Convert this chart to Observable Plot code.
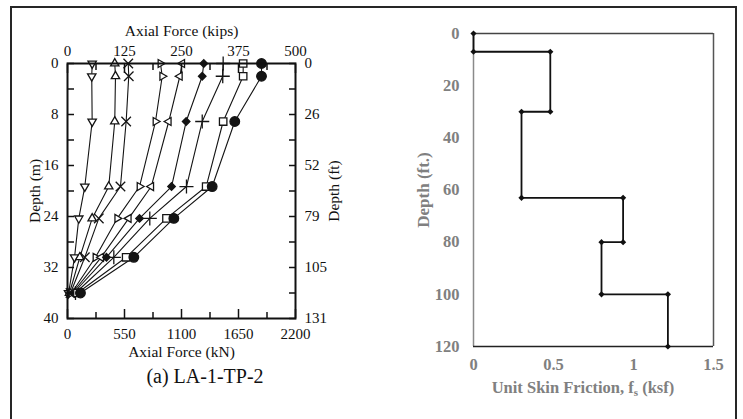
<!DOCTYPE html>
<html>
<head>
<meta charset="utf-8">
<script src="https://cdn.jsdelivr.net/npm/d3@7"></script>
<script src="https://cdn.jsdelivr.net/npm/@observablehq/plot@0.6"></script>
<style>
  body { margin: 0; background: #fff; }
  #wrap { position: relative; width: 743px; height: 419px; overflow: hidden; background: #fff;
          font-family: "Liberation Serif", "Times New Roman", serif; }
  #border { position: absolute; left: 10px; top: 6px; width: 727px; height: 460px;
            box-sizing: border-box; border: 2.5px solid #262626; }
  #left { position: absolute; left: 0; top: 0; }
  #right { position: absolute; left: 390px; top: 0; }
  #capA { position: absolute; left: 105px; width: 200px; top: 365px; text-align: center;
          font-size: 20px; line-height: 22px; color: #111; }
  #xlabR { position: absolute; left: 463px; width: 240px; top: 379px; text-align: center;
           font-size: 16.5px; line-height: 18px; font-weight: bold; color: #808080; }
  #xlabR sub { font-size: 11px; vertical-align: -3px; line-height: 0; }
</style>
</head>
<body>
<div id="wrap">
  <div id="border"></div>
  <div id="left"></div>
  <div id="right"></div>
  <div id="capA">(a) LA-1-TP-2</div>
  <div id="xlabR">Unit Skin Friction, f<sub>s</sub> (ksf)</div>
</div>
<script>
// ---------- Left panel data (axial force in kN vs depth in m) ----------
const depthM = [0, 2.0, 9.1, 19.3, 24.3, 30.4, 36.0];
const seriesNames = ["S1", "S2", "S3", "S4", "S5", "S6", "S7", "S8", "S9"];
const forceS1 = [238, 234, 238, 167, 109, 68, 10];
const forceS2 = [456, 463, 456, 398, 238, 119, 19];
const forceS3 = [586, 591, 566, 511, 302, 167, 29];
const forceS4 = [897, 914, 849, 695, 480, 270, 39];
const forceS5 = [1107, 1084, 977, 808, 591, 325, 48];
const forceS6 = [1315, 1300, 1145, 1004, 695, 376, 58];
const forceS7 = [1502, 1498, 1300, 1148, 794, 447, 77];
const forceS8 = [1695, 1695, 1502, 1338, 955, 566, 96];
const forceS9 = [1872, 1872, 1614, 1396, 1026, 640, 125];

const kNTicks = [0, 550, 1100, 1650, 2200];
const kNTickLabels = ["0", "550", "1100", "1650", "2200"];
const kNMinorTicks = [275, 825, 1375, 1925];
const kipsLabels = ["0", "125", "250", "375", "500"];
const depthMTicks = [0, 8, 16, 24, 32, 40];
const depthMMinorTicks = [4, 12, 20, 28, 36];
const depthFtLabels = ["0", "26", "52", "79", "105", "131"];

// ---------- Right panel data (unit skin friction vs depth in ft) ----------
const stepFs = [0, 0, 0.48, 0.48, 0.30, 0.30, 0.935, 0.935, 0.80, 0.80, 1.215, 1.215];
const stepDepthFt = [0, 7, 7, 30, 30, 63, 63, 80, 80, 100, 100, 120];
const fsTicks = [0, 0.5, 1, 1.5];
const fsTickLabels = ["0", "0.5", "1", "1.5"];
const depthFtTicks = [0, 20, 40, 60, 80, 100, 120];

// ---------- build left panel ----------
const allForces = [forceS1, forceS2, forceS3, forceS4, forceS5, forceS6, forceS7, forceS8, forceS9];
const rows = [];
allForces.forEach((arr, i) => arr.forEach((f, j) => rows.push({series: seriesNames[i], depth: depthM[j], force: f})));

function triSymbol(angleDeg) {
  const a0 = angleDeg * Math.PI / 180;
  return {
    draw(ctx, size) {
      const R = Math.sqrt(size / Math.PI) * 1.15;
      for (let k = 0; k < 3; k++) {
        const a = a0 + k * 2 * Math.PI / 3;
        const px = R * Math.cos(a), py = R * Math.sin(a);
        if (k === 0) ctx.moveTo(px, py); else ctx.lineTo(px, py);
      }
      ctx.closePath();
    }
  };
}
const triDown = triSymbol(90), triUp = triSymbol(-90), triRight = triSymbol(0), triLeft = triSymbol(180);

const ink = "#141414";
const styleFor = [
  {symbol: triDown, r: 4.2, fill: "white", stroke: ink},
  {symbol: triUp, r: 4.2, fill: "white", stroke: ink},
  {symbol: "times", r: 4.4, fill: "none", stroke: ink},
  {symbol: triRight, r: 4.0, fill: "white", stroke: ink},
  {symbol: triLeft, r: 4.0, fill: "white", stroke: ink},
  {symbol: "diamond2", r: 3.4, fill: ink, stroke: ink},
  {symbol: "plus", r: 4.6, fill: "none", stroke: ink},
  {symbol: "square", r: 4.2, fill: "white", stroke: ink},
  {symbol: "circle", r: 4.8, fill: ink, stroke: ink}
];

const dotMarks = seriesNames.map((name, i) =>
  Plot.dot(rows.filter(d => d.series === name), {
    x: "force", y: "depth", symbol: styleFor[i].symbol, r: styleFor[i].r,
    fill: styleFor[i].fill, stroke: styleFor[i].stroke, strokeWidth: 1.3
  })
);

const leftPlot = Plot.plot({
  width: 360, height: 360,
  marginLeft: 67, marginRight: 65, marginTop: 63, marginBottom: 42,
  style: {fontFamily: "Liberation Serif, Times New Roman, serif", fontSize: "15px", color: "#111", background: "transparent"},
  x: {domain: [0, 2200], label: null},
  y: {domain: [0, 40], reverse: true, label: null},
  marks: [
    Plot.line(rows, {x: "force", y: "depth", z: "series", stroke: ink, strokeWidth: 1.1}),
    ...dotMarks,
    Plot.frame({stroke: "#111", strokeWidth: 2}),
    // bottom axis (kN)
    Plot.axisX(kNTicks, {anchor: "bottom", tickSize: 0, tickPadding: 10, label: null, tickFormat: (d, i) => kNTickLabels[i]}),
    Plot.axisX(kNTicks, {anchor: "bottom", tickSize: 9, dy: -9, fill: "none", label: null, strokeWidth: 1.5}),
    Plot.axisX(kNMinorTicks, {anchor: "bottom", tickSize: 6, dy: -6, fill: "none", label: null, strokeWidth: 1.5}),
    // top axis (kips)
    Plot.axisX(kNTicks, {anchor: "top", tickSize: 0, tickPadding: 8, label: null, tickFormat: (d, i) => kipsLabels[i]}),
    Plot.axisX(kNTicks, {anchor: "top", tickSize: 9, dy: 9, fill: "none", label: null, strokeWidth: 1.5}),
    Plot.axisX(kNMinorTicks, {anchor: "top", tickSize: 6, dy: 6, fill: "none", label: null, strokeWidth: 1.5}),
    // left axis (m)
    Plot.axisY(depthMTicks, {anchor: "left", tickSize: 0, tickPadding: 9, label: null}),
    Plot.axisY(depthMTicks.concat(depthMMinorTicks), {anchor: "left", tickSize: 7, dx: 7, fill: "none", label: null, strokeWidth: 1.5}),
    // right axis (ft)
    Plot.axisY(depthMTicks, {anchor: "right", tickSize: 0, tickPadding: 9, label: null, tickFormat: (d, i) => depthFtLabels[i]}),
    Plot.axisY(depthMTicks.concat(depthMMinorTicks), {anchor: "right", tickSize: 7, dx: -7, fill: "none", label: null, strokeWidth: 1.5}),
    // axis titles
    Plot.text(["Axial Force (kips)"], {frameAnchor: "top", dy: -32, lineAnchor: "middle", textAnchor: "middle", text: d => d, fontSize: 15.5}),
    Plot.text(["Axial Force (kN)"], {frameAnchor: "bottom", dy: 34, lineAnchor: "middle", textAnchor: "middle", text: d => d, fontSize: 15.5}),
    Plot.text(["Depth (m)"], {frameAnchor: "left", dx: -32, rotate: -90, lineAnchor: "middle", textAnchor: "middle", text: d => d, fontSize: 15.5}),
    Plot.text(["Depth (ft)"], {frameAnchor: "right", dx: 39, rotate: -90, lineAnchor: "middle", textAnchor: "middle", text: d => d, fontSize: 15.5})
  ]
});
document.getElementById("left").appendChild(leftPlot);

// ---------- build right panel ----------
const stepRows = stepFs.map((f, i) => ({fs: f, depth: stepDepthFt[i]}));
const gray = "#808080";

const rightPlot = Plot.plot({
  width: 350, height: 400,
  marginLeft: 83, marginRight: 27, marginTop: 33, marginBottom: 54,
  style: {fontFamily: "Liberation Serif, Times New Roman, serif", fontSize: "16.5px", color: gray, background: "transparent"},
  x: {domain: [0, 1.5], label: null},
  y: {domain: [0, 120], reverse: true, label: null},
  marks: [
    Plot.ruleX([0], {stroke: "#8a8a8a", strokeWidth: 1.5}),
    Plot.ruleX([1.5], {stroke: "#555", strokeWidth: 1.5}),
    Plot.ruleY([0], {stroke: "#444", strokeWidth: 1.5}),
    Plot.ruleY([120], {stroke: "#222", strokeWidth: 1.5}),
    Plot.line(stepRows, {x: "fs", y: "depth", stroke: "#111", strokeWidth: 1.8}),
    Plot.dot(stepRows, {x: "fs", y: "depth", symbol: "diamond2", r: 2.8, fill: "#111"}),
    Plot.axisY(depthFtTicks, {anchor: "left", tickSize: 0, tickPadding: 14, label: null, fontWeight: "bold", fill: gray}),
    Plot.axisX(fsTicks, {anchor: "bottom", tickSize: 0, tickPadding: 12, label: null, fontWeight: "bold", fill: gray,
      tickFormat: (d, i) => fsTickLabels[i]}),
    Plot.text(["Depth (ft.)"], {frameAnchor: "left", dx: -50, rotate: -90, lineAnchor: "middle", textAnchor: "middle",
      text: d => d, fontWeight: "bold", fill: gray, fontSize: 17})
  ]
});
document.getElementById("right").appendChild(rightPlot);
</script>
</body>
</html>
